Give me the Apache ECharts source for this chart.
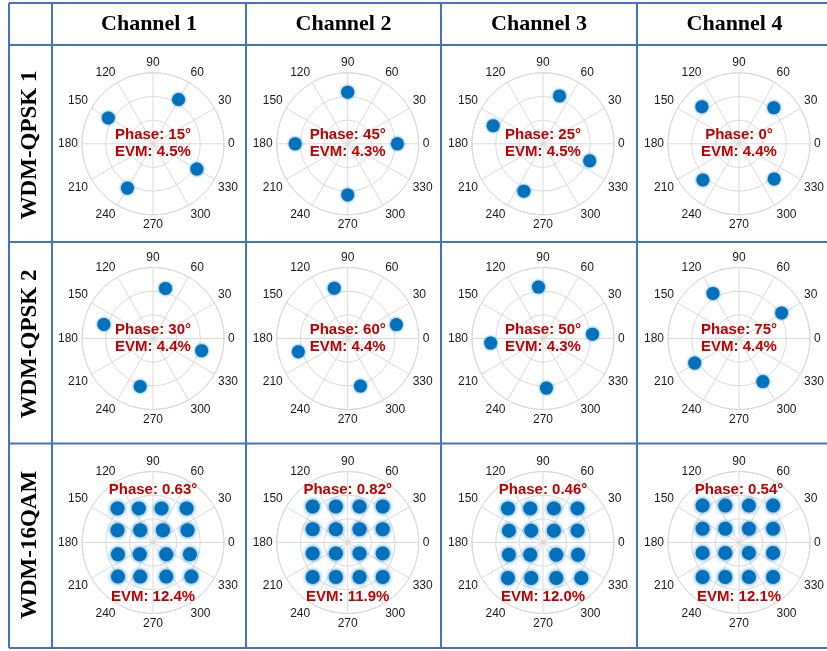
<!DOCTYPE html>
<html>
<head>
<meta charset="utf-8">
<script src="https://cdn.jsdelivr.net/npm/echarts@6/dist/echarts.min.js"></script>
<style>
  html, body { margin: 0; padding: 0; background: #ffffff; }
  #chart { width: 827px; height: 651px; }
</style>
</head>
<body>
<div id="chart"></div>
<script>
// Column and row headings
const channels = ['Channel 1', 'Channel 2', 'Channel 3', 'Channel 4'];
const formats = ['WDM-QPSK 1', 'WDM-QPSK 2', 'WDM-16QAM'];

// Annotations per plot (row = format, column = channel)
const phaseLabels = [
  ['15°', '45°', '25°', '0°'],
  ['30°', '60°', '50°', '75°'],
  ['0.63°', '0.82°', '0.46°', '0.54°']
];
const evmLabels = [
  ['4.5%', '4.3%', '4.5%', '4.4%'],
  ['4.4%', '4.4%', '4.3%', '4.4%'],
  ['12.4%', '11.9%', '12.0%', '12.1%']
];

// Polar tick labels (degrees)
const angleTicks = [0, 30, 60, 90, 120, 150, 180, 210, 240, 270, 300, 330];

// QPSK cluster centres: [amplitude, angle in degrees]
const qpsk1Ch1 = [[1.08, 60], [1.09, 150], [1.08, 240], [1.07, 330]];
const qpsk1Ch2 = [[1.09, 90], [1.11, 180], [1.08, 270], [1.05, 0]];
const qpsk1Ch3 = [[1.07, 71], [1.12, 160], [1.08, 248], [1.05, 340]];
const qpsk1Ch4 = [[1.06, 46], [1.11, 135], [1.08, 225], [1.05, 315]];
const qpsk2Ch1 = [[1.09, 76], [1.08, 164], [1.05, 255], [1.06, 346]];
const qpsk2Ch2 = [[1.10, 105], [1.07, 16], [1.08, 195], [1.04, 285]];
const qpsk2Ch3 = [[1.09, 95], [1.05, 5], [1.11, 185], [1.05, 274]];
const qpsk2Ch4 = [[1.10, 120], [1.05, 31], [1.07, 209], [1.04, 299]];

// 16QAM cluster centres: [in-phase, quadrature]
const qamCh1 = [
  [-0.75, 0.72], [-0.30, 0.72], [0.18, 0.72], [0.71, 0.72],
  [-0.75, 0.26], [-0.27, 0.26], [0.21, 0.26], [0.73, 0.26],
  [-0.74, -0.25], [-0.28, -0.25], [0.28, -0.25], [0.78, -0.25],
  [-0.74, -0.72], [-0.27, -0.72], [0.28, -0.72], [0.81, -0.72]
];
const qamCh2 = [
  [-0.74, 0.76], [-0.25, 0.76], [0.25, 0.76], [0.74, 0.76],
  [-0.74, 0.28], [-0.25, 0.28], [0.25, 0.28], [0.74, 0.28],
  [-0.74, -0.23], [-0.25, -0.23], [0.25, -0.23], [0.74, -0.23],
  [-0.74, -0.73], [-0.25, -0.73], [0.25, -0.73], [0.74, -0.73]
];
const qamCh3 = [
  [-0.74, 0.72], [-0.27, 0.72], [0.23, 0.72], [0.73, 0.72],
  [-0.72, 0.25], [-0.25, 0.25], [0.23, 0.25], [0.73, 0.25],
  [-0.72, -0.26], [-0.27, -0.26], [0.28, -0.26], [0.74, -0.26],
  [-0.74, -0.75], [-0.25, -0.75], [0.28, -0.75], [0.81, -0.75]
];
const qamCh4 = [
  [-0.77, 0.78], [-0.29, 0.78], [0.21, 0.78], [0.72, 0.78],
  [-0.77, 0.29], [-0.29, 0.29], [0.21, 0.29], [0.72, 0.29],
  [-0.77, -0.22], [-0.29, -0.22], [0.21, -0.22], [0.72, -0.22],
  [-0.77, -0.73], [-0.29, -0.73], [0.21, -0.73], [0.72, -0.73]
];

const plotData = [
  [qpsk1Ch1, qpsk1Ch2, qpsk1Ch3, qpsk1Ch4],
  [qpsk2Ch1, qpsk2Ch2, qpsk2Ch3, qpsk2Ch4],
  [qamCh1, qamCh2, qamCh3, qamCh4]
];

// I/Q pair -> [amplitude, angle] for the polar system
function iqToPolar(p) {
  const r = Math.hypot(p[0], p[1]);
  let a = Math.atan2(p[1], p[0]) * 180 / Math.PI;
  if (a < 0) a += 360;
  return [r, a];
}

// Layout of the table
const colX = [153, 347.7, 543, 739];
const rowY = [143.8, 338.5, 542.5];
const plotR = 71;
const hLines = [3, 45, 242, 443.5, 648];
const vLines = [9, 52, 246, 441, 637];
const headerY = 24;
const rowLabelY = [145, 344, 545];

const BLUE = '#0072BD';
const RED = '#C00000';
const GRID = '#dadada';
const BORDER = '#4472C4';

const polar = [], angleAxis = [], radiusAxis = [], series = [], graphic = [];

for (let r = 0; r < 3; r++) {
  for (let c = 0; c < 4; c++) {
    const idx = polar.length;
    polar.push({ center: [colX[c], rowY[r]], radius: plotR });
    angleAxis.push({
      polarIndex: idx, type: 'value', min: 0, max: 360, interval: 30,
      startAngle: 0, clockwise: false,
      axisLine: { show: true, lineStyle: { color: GRID, width: 1 } },
      axisTick: { show: false },
      axisLabel: {
        show: true, margin: 4, color: '#1a1a1a', fontSize: 12,
        fontFamily: '"Liberation Sans", Arial, sans-serif',
        formatter: v => angleTicks.indexOf(v) >= 0 ? String(v) : ''
      },
      splitLine: { show: true, lineStyle: { color: GRID, width: 1 } }
    });
    radiusAxis.push({
      polarIndex: idx, type: 'value', min: 0, max: 1.5, interval: 0.5,
      axisLine: { show: false }, axisTick: { show: false }, axisLabel: { show: false },
      splitLine: { show: true, lineStyle: { color: GRID, width: 1 } }
    });
    const isQam = r === 2;
    const pts = isQam ? plotData[r][c].map(iqToPolar) : plotData[r][c];
    series.push({
      type: 'scatter', coordinateSystem: 'polar', polarIndex: idx,
      data: pts, symbolSize: isQam ? 14 : 13, silent: true,
      itemStyle: {
        color: BLUE, opacity: 1,
        shadowBlur: isQam ? 4 : 3, shadowColor: 'rgba(0,114,189,0.9)'
      }
    });

    // Phase / EVM annotations
    const font = 'bold 15px "Liberation Sans", Arial, sans-serif';
    const phaseY = isQam ? rowY[r] - 52.5 : rowY[r] - 9;
    const evmY = isQam ? rowY[r] + 54 : rowY[r] + 8;
    graphic.push({
      type: 'text', x: colX[c], y: phaseY, z: 100,
      style: { text: 'Phase: ' + phaseLabels[r][c], font, fill: RED, textAlign: 'center', textVerticalAlign: 'middle' }
    });
    graphic.push({
      type: 'text', x: colX[c], y: evmY, z: 100,
      style: { text: 'EVM: ' + evmLabels[r][c], font, fill: RED, textAlign: 'center', textVerticalAlign: 'middle' }
    });
  }
}

// Table rules
hLines.forEach(y => graphic.push({
  type: 'line', z: 50, shape: { x1: vLines[0], y1: y, x2: 827, y2: y },
  style: { stroke: BORDER, lineWidth: 2 }
}));
vLines.forEach(x => graphic.push({
  type: 'line', z: 50, shape: { x1: x, y1: hLines[0], x2: x, y2: hLines[hLines.length - 1] },
  style: { stroke: BORDER, lineWidth: 2 }
}));

// Column headings
channels.forEach((t, c) => graphic.push({
  type: 'text', x: (vLines[c + 1] + (vLines[c + 2] || 832)) / 2, y: headerY, z: 100,
  style: { text: t, font: 'bold 22px "Liberation Serif", "Times New Roman", serif', fill: '#000', textAlign: 'center', textVerticalAlign: 'middle' }
}));

// Row headings (rotated)
formats.forEach((t, r) => graphic.push({
  type: 'text', x: 30, y: rowLabelY[r], rotation: Math.PI / 2, z: 100,
  style: { text: t, font: 'bold 23px "Liberation Serif", "Times New Roman", serif', fill: '#000', textAlign: 'center', textVerticalAlign: 'middle' }
}));

const chart = echarts.init(document.getElementById('chart'), null, { renderer: 'canvas' });
chart.setOption({
  animation: false,
  backgroundColor: '#ffffff',
  polar, angleAxis, radiusAxis, series, graphic
});
</script>
</body>
</html>
